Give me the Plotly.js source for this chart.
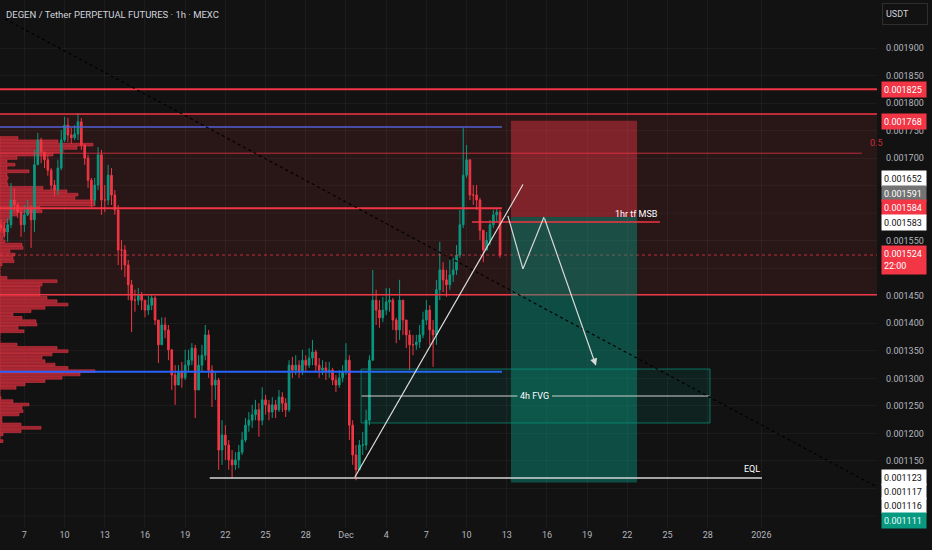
<!DOCTYPE html>
<html><head><meta charset="utf-8">
<script src="https://cdn.plot.ly/plotly-3.0.1.min.js"></script>
<style>html,body{margin:0;padding:0;background:#121212;}#chart{width:932px;height:550px;}</style>
</head><body><div id="chart"></div>
<script>
// ---- DATA (prices in micro-USDT, i.e. 1e-6 USDT) ----
const candleStart = '2025-11-05T06:00:00';
const candleHours = 6;
const firstOpen = 1579;
const closeP = [1573,1566,1579,1624,1615,1602,1579,1597,1609,1588,
1688,1733,1711,1697,1678,1651,1642,1682,1733,1760,
1742,1737,1744,1766,1724,1700,1660,1624,1651,1706,
1624,1624,1669,1633,1606,1533,1533,1506,1470,1442,
1442,1452,1442,1424,1433,1446,1406,1361,1397,1388,
1352,1306,1288,1312,1301,1324,1333,1355,1279,1324,
1342,1379,1315,1288,1297,1170,1197,1179,1152,1143,
1152,1166,1188,1215,1224,1234,1243,1224,1261,1252,
1239,1252,1243,1266,1255,1243,1324,1315,1324,1312,
1333,1324,1337,1348,1324,1315,1319,1312,1315,1297,
1288,1301,1312,1333,1215,1161,1134,1179,1179,1224,
1333,1442,1424,1410,1424,1439,1442,1406,1388,1442,
1406,1379,1361,1361,1366,1379,1406,1424,1388,1379,
1461,1497,1479,1470,1488,1497,1524,1579,1669,1697,
1633,1633,1624,1569,1533,1551,1579,1597,1602,1524];
const highP = [1588,1584,1591,1655,1646,1619,1609,1615,1624,1615,
1715,1746,1737,1711,1706,1682,1660,1697,1751,1775,
1773,1755,1760,1782,1773,1724,1706,1664,1664,1720,
1715,1651,1688,1682,1642,1615,1551,1542,1515,1479,
1461,1464,1457,1442,1450,1452,1450,1388,1411,1411,
1397,1352,1324,1324,1330,1352,1352,1364,1361,1342,
1361,1397,1388,1324,1312,1301,1224,1215,1188,1170,
1166,1179,1203,1228,1239,1252,1261,1255,1284,1270,
1261,1266,1261,1279,1275,1264,1333,1339,1342,1333,
1352,1342,1355,1370,1352,1337,1333,1330,1330,1319,
1306,1315,1324,1364,1342,1224,1179,1188,1203,1243,
1342,1497,1461,1442,1448,1464,1464,1446,1410,1479,
1442,1406,1388,1379,1379,1397,1421,1442,1433,1406,
1479,1548,1511,1497,1515,1519,1542,1606,1755,1724,
1697,1651,1651,1628,1569,1566,1588,1606,1609,1606];
const lowP = [1566,1555,1548,1573,1602,1591,1557,1566,1595,1537,
1566,1697,1691,1682,1668,1642,1631,1633,1678,1729,
1729,1726,1733,1733,1715,1688,1646,1611,1615,1642,
1597,1602,1615,1615,1597,1506,1497,1484,1442,1384,
1421,1433,1424,1411,1415,1424,1397,1328,1361,1373,
1333,1279,1252,1288,1283,1297,1312,1324,1228,1297,
1312,1333,1301,1248,1261,1134,1143,1152,1134,1119,
1134,1137,1161,1184,1203,1210,1224,1194,1215,1234,
1224,1228,1228,1239,1239,1230,1239,1301,1306,1301,
1306,1312,1319,1324,1312,1301,1306,1297,1301,1288,
1275,1283,1293,1306,1188,1143,1115,1143,1161,1170,
1215,1333,1397,1392,1402,1415,1421,1388,1364,1370,
1379,1355,1315,1342,1352,1355,1373,1397,1361,1321,
1361,1442,1457,1448,1461,1475,1488,1519,1573,1664,
1624,1615,1606,1551,1511,1533,1542,1573,1584,1519];

// volume profile (left side)
const profLevels = [1736.6,1730.6,1724.5,1718.5,1712.4,1706.4,1700.3,1694.3,1688.2,1682.2,
1676.1,1670.1,1664.0,1658.0,1651.9,1645.9,1639.8,1633.8,1627.7,1621.7,
1615.6,1609.6,1603.5,1597.5,1591.4,1585.4,1579.3,1573.3,1567.2,1561.2,
1555.1,1549.1,1543.0,1537.0,1530.9,1524.9,1518.8,1512.8,1506.7,1500.7,
1494.6,1488.6,1482.5,1476.5,1470.4,1464.4,1458.3,1452.3,1446.2,1440.2,
1434.1,1428.1,1422.0,1416.0,1409.9,1403.9,1397.8,1391.8,1385.7,1379.7,
1373.6,1367.6,1361.5,1355.5,1349.4,1343.4,1337.3,1331.3,1325.2,1319.2,
1313.1,1307.1,1301.0,1295.0,1288.9,1282.9,1276.8,1270.8,1264.7,1258.7,
1252.6,1246.6,1240.5,1234.5,1228.4,1222.4,1216.3,1210.3,1204.2,1198.2,
1192.1,1186.1];
const profVol = [18,58,93,77,63,53,17,7,15,7,
29,7,8,7,8,43,67,78,75,95,
95,40,42,17,10,8,5,4,5,5,
3,5,22,23,10,15,13,14,2,0,
0,0,7,57,42,40,40,40,47,57,
68,45,31,13,22,36,37,18,24,0,
0,0,17,57,68,52,42,45,55,68,
95,80,62,45,25,16,0,0,1,13,
29,22,23,19,2,2,21,41,21,3,
0,3];

// axis ticks
const xTickDates = ['2025-11-07','2025-11-10','2025-11-13','2025-11-16','2025-11-19','2025-11-22','2025-11-25','2025-11-28','2025-12-01','2025-12-04','2025-12-07','2025-12-10','2025-12-13','2025-12-16','2025-12-19','2025-12-22','2025-12-25','2025-12-28','2026-01-01'];
const xTickText = ['7','10','13','16','19','22','25','28','Dec','4','7','10','13','16','19','22','25','28','2026'];
const yTicks = [1150,1200,1250,1300,1350,1400,1450,1550,1700,1750,1800,1850,1900];   // labelled ticks
const yGridHidden = [1050,1100,1500,1600,1650];                                        // grid levels whose labels are covered

// key price levels / drawing anchors
const lvl1825 = 1825, lvl1780 = 1780, lvlBlueHigh = 1756.5, lvlFib = 1709, lvlRes = 1609,
      lvlMSB = 1584, lvlLast = 1524, lvl1452 = 1452, lvlBlueLow = 1312, lvlEQL = 1119;
const posStop = 1768, posEntry = 1593, posTarget = 1111;
const fvgTop = 1317, fvgBot = 1219, fvgMid = 1268;
const trendFrom = ['2025-12-01 16:00', 1121], trendTo = ['2025-12-14 05:00', 1652];
const zigzag = [['2025-12-13 02:00',1595],['2025-12-14 05:00',1499],['2025-12-15 18:40',1593],['2025-12-19 15:50',1323]];
const diagFrom = ['2025-11-05 13:30', 1952.7], diagTo = ['2026-01-09 15:07', 1102.8];
const axisLabelPrices = [1825,1768,1652,1591,1584,1583,1524,1123,1117,1116,1111];

// ---- BUILD ----
const xStart = '2025-11-05 04:19', xEnd = '2026-01-09 15:07';
function addHours(base, h){const d=new Date(Date.parse(base+'Z')+h*3600000);return d.toISOString().slice(0,16).replace('T',' ');}
const times = closeP.map((_,i)=>addHours(candleStart, i*candleHours));
const openP = closeP.map((c,i)=> i===0 ? firstOpen : closeP[i-1]);
const hi = highP.map((h,i)=>Math.max(h, openP[i], closeP[i]));
const lo = lowP.map((l,i)=>Math.min(l, openP[i], closeP[i]));

const MS_PER_UNIT = 86400000/13.4;
const RED='#f23645', GREEN='#089981', GRID='rgba(255,255,255,0.045)';

const traces = [
  {type:'bar', orientation:'h', y:profLevels, x:profVol.map(v=>v*MS_PER_UNIT), base:xStart,
   width:5.0, marker:{color:'rgba(170,38,50,0.92)', line:{color:'rgba(230,55,70,0.9)', width:0.6}}, hoverinfo:'skip'},
  {type:'candlestick', x:times, open:openP, high:hi, low:lo, close:closeP,
   increasing:{line:{color:GREEN,width:1}, fillcolor:GREEN},
   decreasing:{line:{color:RED,width:1}, fillcolor:RED},
   whiskerwidth:0, hoverinfo:'skip'}
];

function hl(y,x0,x1,color,width,dash,xref){return {type:'line',xref:xref||'x',yref:'y',x0:x0,x1:x1,y0:y,y1:y,line:{color:color,width:width,dash:dash||'solid'}};}
function seg(a,b,color,width,dash){return {type:'line',xref:'x',yref:'y',x0:a[0],y0:a[1],x1:b[0],y1:b[1],line:{color:color,width:width,dash:dash||'solid'}};}

const lineEnd = '2025-12-12 15:20';
const shapes = [
  {type:'rect',xref:'paper',yref:'y',x0:0,x1:1,y0:lvl1452,y1:lvl1780,fillcolor:'rgba(242,54,69,0.1)',line:{width:0},layer:'below'}
];
yGridHidden.forEach(v=>{const s=hl(v,0,1,GRID,1,null,'paper');s.layer='below';shapes.push(s);});
shapes.push(
  hl(lvl1825,0,1,RED,2,null,'paper'),
  hl(lvl1780,0,1,RED,1.5,null,'paper'),
  hl(lvlBlueHigh,xStart,lineEnd,'#5261d6',1.5),
  hl(lvlFib,xStart,'2026-01-08 12:00','rgba(242,54,69,0.75)',1),
  hl(lvlRes,xStart,lineEnd,RED,2),
  hl(lvlLast,0,1,'rgba(242,54,69,0.75)',1,'dot','paper'),
  hl(lvl1452,0,1,RED,1.5,null,'paper'),
  hl(lvlBlueLow,xStart,lineEnd,'#2962ff',2),
  // position tool
  {type:'rect',xref:'x',yref:'y',x0:'2025-12-13 07:30',x1:'2025-12-22 17:20',y0:posEntry,y1:posStop,fillcolor:'rgba(242,54,69,0.43)',line:{width:0}},
  {type:'rect',xref:'x',yref:'y',x0:'2025-12-13 07:30',x1:'2025-12-22 17:20',y0:posTarget,y1:posEntry,fillcolor:'rgba(8,153,129,0.44)',line:{width:0}},
  // FVG
  {type:'rect',xref:'x',yref:'y',x0:'2025-12-02 03:00',x1:'2025-12-28 04:00',y0:fvgBot,y1:fvgTop,fillcolor:'rgba(8,153,129,0.12)',line:{color:'rgba(8,153,129,0.7)',width:1}},
  hl(fvgMid,'2025-12-02 04:00','2025-12-13 19:00','#d0d0d0',1.2),
  hl(fvgMid,'2025-12-16 09:00','2025-12-28 03:00','#d0d0d0',1.2),
  hl(lvlMSB,'2025-12-10 09:40','2025-12-24 10:20',RED,1.5),
  hl(lvlEQL,'2025-11-20 20:00','2026-01-01 01:00','#d6d6d6',1.5),
  seg(diagFrom,diagTo,'#000000',1.2,'dot'),
  seg(trendFrom,trendTo,'#e0e0e0',1.2),
  seg(zigzag[0],zigzag[1],'#d8d8d8',1.2),
  seg(zigzag[1],zigzag[2],'#d8d8d8',1.2)
);

const annFont = {family:'Roboto, "DejaVu Sans", sans-serif', size:9, color:'#ffffff'};
const annotations = [
  {xref:'paper',yref:'paper',x:0,y:1,xanchor:'left',yanchor:'top',xshift:4,yshift:-7,showarrow:false,
   text:'DEGEN / Tether PERPETUAL FUTURES · 1h · MEXC',font:{family:'Roboto, sans-serif',size:9.5,color:'#d1d4dc'}},
  {xref:'x',yref:'y',x:zigzag[3][0],y:zigzag[3][1],ax:zigzag[2][0],ay:zigzag[2][1],axref:'x',ayref:'y',
   showarrow:true,arrowhead:2,arrowsize:1.2,arrowwidth:1.2,arrowcolor:'#d8d8d8',text:''},
  {xref:'x',yref:'y',x:'2025-12-24 10:20',y:lvlMSB,xanchor:'right',yanchor:'bottom',yshift:1,showarrow:false,text:'1hr tf MSB',font:annFont},
  {xref:'x',yref:'y',x:'2025-12-15 02:00',y:fvgMid,xanchor:'center',yanchor:'middle',showarrow:false,text:'4h FVG',font:annFont},
  {xref:'x',yref:'y',x:'2026-01-01 01:00',y:lvlEQL,xanchor:'right',yanchor:'bottom',yshift:2,showarrow:false,text:'EQL',font:annFont},
  {xref:'paper',yref:'y',x:868/877,y:lvlFib,xanchor:'left',yanchor:'bottom',yshift:3,showarrow:false,text:'0.5',font:{family:'Roboto, sans-serif',size:9,color:'rgba(242,54,69,0.8)'}},
  {xref:'paper',yref:'paper',x:1,y:1,xanchor:'left',yanchor:'top',xshift:5,yshift:-3,showarrow:false,text:'USDT',
   width:38,height:14,align:'left',borderpad:3,bordercolor:'#2e2e2e',borderwidth:1,bgcolor:'#121212',font:{family:'Roboto, sans-serif',size:9,color:'#d1d4dc'}}
];
const lblStyle = [
  {bg:RED,fg:'#fff',sh:0},{bg:RED,fg:'#fff',sh:-1},{bg:'#ffffff',fg:'#111',sh:6.5},{bg:'#737373',fg:'#fff',sh:25},
  {bg:RED,fg:'#fff',sh:15},{bg:'#ffffff',fg:'#111',sh:0.5},{bg:RED,fg:'#fff',sh:-5,extra:'22:00'},
  {bg:'#ffffff',fg:'#111',sh:-1.5},{bg:'#ffffff',fg:'#111',sh:-12},{bg:'#ffffff',fg:'#111',sh:-26},{bg:GREEN,fg:'#e8fff9',sh:-38}
];
axisLabelPrices.forEach((p,i)=>{
  const s=lblStyle[i];
  annotations.push({xref:'paper',yref:'y',x:1,y:p,xanchor:'left',yanchor:'middle',xshift:4,yshift:s.sh,showarrow:false,
    text:(p/1e6).toFixed(6)+(s.extra?'<br>'+s.extra:''),align:'left',width:40,height:s.extra?24:11,borderpad:2,
    bgcolor:s.bg,font:{family:'Roboto, sans-serif',size:9,color:s.fg}});
});

const layout = {
  width:932,height:550,margin:{l:0,r:55,t:0,b:22},
  paper_bgcolor:'#121212',plot_bgcolor:'#121212',showlegend:false,bargap:0,
  font:{family:'Roboto, "DejaVu Sans", sans-serif',color:'#b2b5be',size:9},
  xaxis:{type:'date',range:[xStart,xEnd],tickvals:xTickDates,ticktext:xTickText,showgrid:true,gridcolor:GRID,
    zeroline:false,showline:false,ticks:'',tickfont:{size:9,color:'#b2b5be'},rangeslider:{visible:false},fixedrange:true},
  yaxis:{side:'right',range:[1028.3,1987.2],tickvals:yTicks,ticktext:yTicks.map(v=>(v/1e6).toFixed(6)),
    showgrid:true,gridcolor:GRID,zeroline:false,showline:false,ticks:'',ticklabelstandoff:8,
    tickfont:{size:9,color:'#b2b5be'},fixedrange:true},
  shapes:shapes,annotations:annotations
};
Plotly.newPlot('chart',traces,layout,{staticPlot:true,displayModeBar:false});
</script></body></html>
